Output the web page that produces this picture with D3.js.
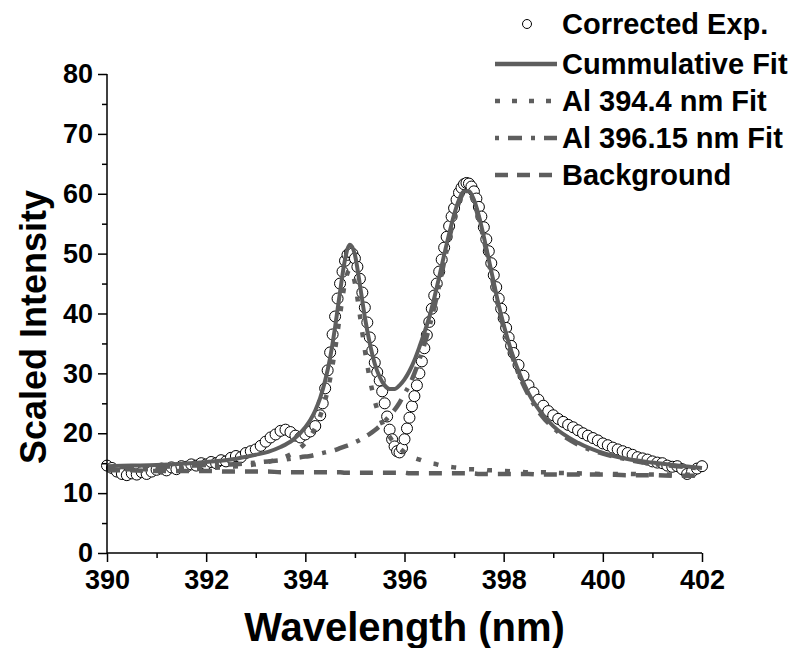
<!DOCTYPE html>
<html>
<head>
<meta charset="utf-8">
<script src="https://cdn.jsdelivr.net/npm/d3@7"></script>
<style>
  body { margin: 0; background: #fff; }
  svg { display: block; font-family: "Liberation Sans", Arial, sans-serif; font-weight: bold; }
</style>
</head>
<body>
<svg width="799" height="648"></svg>
<script>
// measured experimental spectrum [wavelength nm, scaled intensity]
const corrected = [
  [390.0, 14.6], [390.1, 14.2], [390.2, 13.6], [390.3, 13.2], [390.4, 13.0], [390.5, 13.3],
  [390.6, 13.1], [390.7, 13.5], [390.8, 13.2], [390.9, 13.6], [391.0, 13.9], [391.1, 14.1],
  [391.2, 13.8], [391.3, 14.3], [391.4, 14.0], [391.5, 14.5], [391.6, 14.4], [391.7, 14.8],
  [391.8, 14.6], [391.9, 15.0], [392.0, 14.8], [392.1, 15.2], [392.2, 15.0], [392.3, 15.5],
  [392.4, 15.3], [392.5, 15.9], [392.6, 16.2], [392.7, 16.0], [392.8, 16.7], [392.9, 17.0],
  [393.0, 17.3], [393.1, 17.9], [393.2, 18.6], [393.3, 19.3], [393.4, 19.8], [393.5, 20.4],
  [393.6, 20.6], [393.7, 20.2], [393.8, 19.6], [393.9, 19.3], [394.0, 19.8], [394.1, 20.3],
  [394.2, 21.2], [394.3, 23.0], [394.35, 25.0], [394.4, 27.5], [394.45, 30.5], [394.5, 33.5],
  [394.55, 36.5], [394.6, 39.5], [394.65, 42.5], [394.7, 45.0], [394.75, 47.0], [394.8, 48.8],
  [394.85, 49.8], [394.9, 50.2], [394.95, 50.0], [395.0, 49.2], [395.05, 47.8], [395.1, 45.8],
  [395.15, 43.5], [395.2, 41.0], [395.25, 38.5], [395.3, 36.0], [395.35, 33.8], [395.4, 31.8],
  [395.45, 30.2], [395.5, 28.8], [395.55, 27.0], [395.6, 25.0], [395.65, 22.8], [395.7, 20.6],
  [395.75, 19.0], [395.8, 17.8], [395.85, 17.0], [395.9, 16.8], [395.95, 17.5], [396.0, 19.0],
  [396.05, 20.8], [396.1, 22.6], [396.15, 24.5], [396.2, 26.2], [396.25, 28.0], [396.3, 30.0],
  [396.35, 32.0], [396.4, 34.2], [396.45, 36.4], [396.5, 38.6], [396.55, 40.8], [396.6, 43.0],
  [396.65, 45.0], [396.7, 47.0], [396.75, 49.0], [396.8, 51.0], [396.85, 52.8], [396.9, 54.6],
  [396.95, 56.2], [397.0, 57.6], [397.05, 59.0], [397.1, 60.2], [397.15, 61.0], [397.2, 61.6],
  [397.25, 61.8], [397.3, 61.7], [397.35, 61.2], [397.4, 60.4], [397.45, 59.2], [397.5, 57.8],
  [397.55, 56.2], [397.6, 54.4], [397.65, 52.4], [397.7, 50.4], [397.75, 48.4], [397.8, 46.4],
  [397.85, 44.4], [397.9, 42.5], [397.95, 40.8], [398.0, 39.2], [398.05, 37.6], [398.1, 36.0],
  [398.15, 34.6], [398.2, 33.4], [398.3, 31.4], [398.4, 29.6], [398.5, 28.0], [398.6, 26.8],
  [398.7, 25.6], [398.8, 24.6], [398.9, 23.7], [399.0, 23.0], [399.1, 22.4], [399.2, 21.9],
  [399.3, 21.4], [399.4, 21.0], [399.5, 20.5], [399.6, 20.0], [399.7, 19.6], [399.8, 19.2],
  [399.9, 18.8], [400.0, 18.3], [400.1, 18.0], [400.2, 17.6], [400.3, 17.3], [400.4, 17.0],
  [400.5, 16.7], [400.6, 16.4], [400.7, 16.0], [400.8, 15.8], [400.9, 15.6], [401.0, 15.3],
  [401.1, 15.1], [401.2, 15.0], [401.3, 14.6], [401.4, 14.4], [401.5, 14.5], [401.6, 14.0],
  [401.7, 13.2], [401.8, 13.6], [401.9, 14.1], [402.0, 14.5]
];

// wavelength grid shared by the fitted curves
const fitWavelength = [
  390, 390.5, 391, 391.5, 392, 392.5, 393, 393.25, 393.5, 393.75,
  394.0, 394.1, 394.2, 394.3, 394.4, 394.5, 394.6, 394.7, 394.8, 394.9,
  395.0, 395.1, 395.2, 395.3, 395.4, 395.5, 395.6, 395.7, 395.8, 395.9,
  396.0, 396.1, 396.2, 396.3, 396.4, 396.5, 396.6, 396.7, 396.8, 396.9,
  397.0, 397.1, 397.2, 397.3, 397.4, 397.5, 397.6, 397.7, 397.8, 397.9,
  398.0, 398.25, 398.5, 398.75, 399, 399.5, 400, 400.5, 401, 401.5, 402
];
const cumulativeFit = [
  14.5, 14.6, 14.7, 14.9, 15.2, 15.6, 16.4, 16.9, 17.7, 18.9,
  21.0, 22.2, 23.8, 25.9, 28.8, 32.6, 37.7, 43.6, 49.0, 51.5,
  49.8, 44.8, 39.4, 35.0, 31.6, 29.4, 28.0, 27.4, 27.4, 28.0,
  29.0, 30.4, 32.2, 34.4, 36.8, 39.4, 42.6, 46.1, 49.8, 53.3,
  56.5, 59.0, 60.4, 60.4, 59.0, 56.3, 52.8, 49.0, 45.2, 41.4,
  38.1, 31.4, 26.7, 23.5, 21.2, 18.4, 16.7, 15.7, 15.1, 14.6, 14.2
];
const al3944Fit = [
  14.0, 14.0, 14.0, 14.1, 14.2, 14.4, 14.8, 15.2, 15.8, 16.7,
  18.4, 19.5, 20.9, 22.9, 25.5, 29.1, 34.0, 39.8, 45.1, 47.4,
  45.1, 39.7, 33.9, 29.1, 25.4, 22.8, 20.8, 19.4, 18.3, 17.5,
  16.8, 16.3, 15.9, 15.6, 15.3, 15.0, 14.9, 14.7, 14.5, 14.4,
  14.3, 14.2, 14.1, 14.0, 14.0, 13.9, 13.9, 13.8, 13.8, 13.7,
  13.7, 13.6, 13.5, 13.5, 13.4, 13.3, 13.2, 13.2, 13.1, 13.1, 13.0
];
const al39615Fit = [
  14.3, 14.4, 14.4, 14.5, 14.7, 14.8, 15.1, 15.3, 15.5, 15.8,
  16.1, 16.2, 16.4, 16.6, 16.8, 17.0, 17.2, 17.5, 17.8, 18.1,
  18.5, 18.9, 19.4, 19.9, 20.5, 21.2, 22.0, 22.9, 23.9, 25.1,
  26.6, 28.1, 30.0, 32.3, 34.8, 37.7, 41.0, 44.7, 48.6, 52.4,
  55.9, 58.6, 60.1, 60.1, 58.6, 55.8, 52.3, 48.5, 44.6, 40.9,
  37.6, 31.0, 26.4, 23.1, 20.9, 18.1, 16.6, 15.6, 14.9, 14.5, 14.1
];
const background = [
  13.8, 13.8, 13.7, 13.7, 13.7, 13.6, 13.6, 13.6, 13.5, 13.5,
  13.5, 13.5, 13.5, 13.5, 13.5, 13.5, 13.5, 13.5, 13.4, 13.4,
  13.4, 13.4, 13.4, 13.4, 13.4, 13.4, 13.4, 13.4, 13.4, 13.4,
  13.4, 13.3, 13.3, 13.3, 13.3, 13.3, 13.3, 13.3, 13.3, 13.3,
  13.3, 13.3, 13.3, 13.3, 13.3, 13.2, 13.2, 13.2, 13.2, 13.2,
  13.2, 13.2, 13.2, 13.1, 13.1, 13.1, 13.1, 13.0, 13.0, 12.9, 12.9
];

const xMajor = [390, 392, 394, 396, 398, 400, 402];
const xMinor = [391, 393, 395, 397, 399, 401];
const yMajor = [0, 10, 20, 30, 40, 50, 60, 70, 80];
const yMinor = [5, 15, 25, 35, 45, 55, 65, 75];

const legendLabels = ["Corrected Exp.", "Cummulative Fit", "Al 394.4 nm Fit", "Al 396.15 nm Fit", "Background"];

const PLOT = { left: 107, right: 702, top: 74, bottom: 553 };
const CURVE_COLOR = "#5e5e5e";

const svg = d3.select("svg");
const x = d3.scaleLinear().domain([390, 402]).range([PLOT.left, PLOT.right]);
const y = d3.scaleLinear().domain([0, 80]).range([PLOT.bottom, PLOT.top]);

// experimental points
svg.append("g")
  .selectAll("circle")
  .data(corrected)
  .enter()
  .append("circle")
  .attr("cx", (d) => x(d[0]))
  .attr("cy", (d) => y(d[1]))
  .attr("r", 5.5)
  .attr("fill", "#fff")
  .attr("stroke", "#000")
  .attr("stroke-width", 1);

const series = [
  { values: background, dash: "13,10", width: 4.5 },
  { values: al3944Fit, dash: "5,13", width: 4.5 },
  { values: al39615Fit, dash: "4,9,14,9", width: 4.5 },
  { values: cumulativeFit, dash: null, width: 4 },
];

const line = d3.line()
  .x((d) => x(d[0]))
  .y((d) => y(d[1]))
  .curve(d3.curveMonotoneX);

series.forEach((s) => {
  svg.append("path")
    .datum(fitWavelength.map((w, i) => [w, s.values[i]]))
    .attr("d", line)
    .attr("fill", "none")
    .attr("stroke", CURVE_COLOR)
    .attr("stroke-width", s.width)
    .attr("stroke-dasharray", s.dash);
});

// axes
const xAxis = svg.append("g")
  .attr("transform", `translate(0,${PLOT.bottom})`)
  .call(d3.axisBottom(x).tickValues(xMajor).tickSize(9).tickPadding(8).tickFormat(d3.format("d")));
svg.append("g")
  .attr("transform", `translate(0,${PLOT.bottom})`)
  .call(d3.axisBottom(x).tickValues(xMinor).tickSize(5).tickFormat(""))
  .call((g) => g.select(".domain").remove());

const yAxis = svg.append("g")
  .attr("transform", `translate(${PLOT.left},0)`)
  .call(d3.axisLeft(y).tickValues(yMajor).tickSize(9).tickPadding(5));
svg.append("g")
  .attr("transform", `translate(${PLOT.left},0)`)
  .call(d3.axisLeft(y).tickValues(yMinor).tickSize(5).tickFormat(""))
  .call((g) => g.select(".domain").remove());

xAxis.select(".domain").attr("d", `M${PLOT.left},0H${PLOT.right}`).attr("stroke-width", 1.5);
yAxis.select(".domain").attr("d", `M0,${PLOT.top}V${PLOT.bottom}`).attr("stroke-width", 1.5);
svg.selectAll(".tick line").attr("stroke-width", 1.5);
svg.selectAll(".tick text")
  .attr("font-family", "'Liberation Sans', Arial, sans-serif")
  .attr("font-weight", "bold")
  .attr("font-size", 27)
  .attr("fill", "#000");

// axis titles
svg.append("text")
  .attr("x", (PLOT.left + PLOT.right) / 2)
  .attr("y", 641)
  .attr("text-anchor", "middle")
  .attr("font-size", 40)
  .text("Wavelength (nm)");

svg.append("text")
  .attr("transform", "translate(46,327) rotate(-90)")
  .attr("text-anchor", "middle")
  .attr("font-size", 36)
  .text("Scaled Intensity");

// legend
const legend = svg.append("g");
const rowY = [24, 64, 101, 138, 175];
const symX0 = 495, symX1 = 557, textX = 562;

legend.append("circle")
  .attr("cx", 527).attr("cy", rowY[0]).attr("r", 4.5)
  .attr("fill", "#fff").attr("stroke", "#000").attr("stroke-width", 1);

const legendDash = [null, "5,12", "4,9,14,9", "13,9"];
legendDash.forEach((dash, i) => {
  legend.append("line")
    .attr("x1", symX0).attr("x2", symX1)
    .attr("y1", rowY[i + 1]).attr("y2", rowY[i + 1])
    .attr("stroke", CURVE_COLOR)
    .attr("stroke-width", 4.5)
    .attr("stroke-dasharray", dash);
});

legend.selectAll("text")
  .data(legendLabels)
  .enter()
  .append("text")
  .attr("x", textX)
  .attr("y", (d, i) => rowY[i])
  .attr("dy", "0.35em")
  .attr("font-size", 29)
  .text((d) => d);
</script>
</body>
</html>
